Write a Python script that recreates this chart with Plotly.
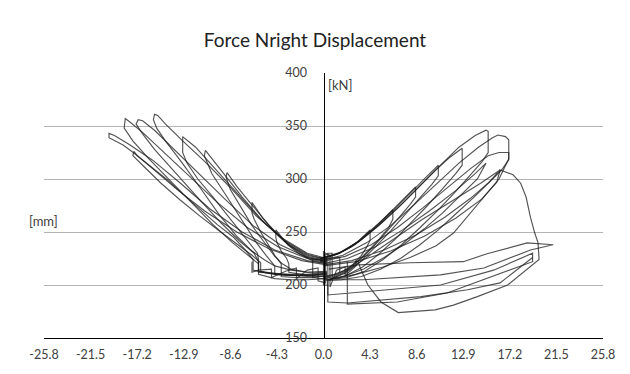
import plotly.graph_objects as go

# ---------------- axis ticks ----------------
x_ticks = [-25.8, -21.5, -17.2, -12.9, -8.6, -4.3, 0.0, 4.3, 8.6, 12.9, 17.2, 21.5, 25.8]
x_tick_labels = ["-25.8", "-21.5", "-17.2", "-12.9", "-8.6", "-4.3", "0.0", "4.3", "8.6", "12.9", "17.2", "21.5", "25.8"]
y_ticks = [150, 200, 250, 300, 350, 400]

# ---------------- left-side cycles (negative displacement) ----------------
L9_x = [0.3, -1.0, -2.2, -3.3, -4.4, -4.4, -4.3, -3.9, -3.4, -3.2, -3.2, -2.0, -0.8, 0.3]
L9_y = [220, 223, 229, 238, 252, 245, 240, 232, 225, 220, 212, 210, 209, 210]

L8_x = [0.3, -1.5, -3.0, -4.5, -5.6, -6.6, -6.6, -6.4, -5.8, -5.1, -4.5, -3.9, -3.9, -2.5, -1.0, 0.3]
L8_y = [222, 226, 236, 250, 263, 278, 268, 262, 250, 238, 228, 220, 208, 207, 207, 209]

L7_x = [0.3, -1.5, -3.2, -5.0, -6.8, -8.0, -8.9, -9.0, -8.6, -7.9, -6.6, -5.3, -4.5, -3.8, -3.0, -1.5, 0.3]
L7_y = [223, 227, 238, 256, 278, 293, 306, 302, 290, 278, 256, 238, 227, 220, 215, 212, 212]

L6_x = [0.3, -1.5, -3.5, -5.5, -7.5, -9.3, -10.9, -11.0, -10.3, -8.9, -7.4, -6.2, -5.3, -4.5, -4.5, -3.0, -1.5, 0.3]
L6_y = [224, 228, 240, 259, 283, 306, 327, 322, 305, 283, 259, 240, 228, 218, 210, 209, 209, 211]

L5_x = [0.3, -1.5, -3.6, -5.8, -8.0, -10.0, -11.8, -13.0, -13.0, -12.6, -11.6, -10.2, -8.6, -7.2, -6.1, -6.0, -6.0, -4.5, -3.0, -1.5, 0.3]
L5_y = [224, 229, 242, 262, 287, 310, 330, 340, 325, 315, 300, 283, 262, 244, 230, 224, 212, 211, 210, 210, 212]

L4_x = [0.3, -1.5, -3.8, -6.2, -8.6, -10.9, -13.0, -14.6, -15.3, -15.6, -15.7, -15.4, -14.6, -13.1, -11.4, -9.6, -8.0, -6.6, -5.5, -4.5, -3.0, -1.5, 0.3]
L4_y = [225, 230, 244, 265, 292, 316, 336, 352, 360, 361, 356, 348, 336, 316, 292, 266, 246, 232, 224, 218, 214, 212, 213]

L3_x = [0.3, -1.5, -4.0, -6.5, -9.0, -11.5, -13.8, -15.6, -16.7, -17.1, -17.3, -16.8, -15.6, -13.6, -11.4, -9.4, -7.8, -6.4, -6.0, -6.0, -4.5, -3.0, -1.5, 0.3]
L3_y = [222, 226, 238, 256, 280, 305, 328, 346, 355, 356, 352, 344, 328, 305, 280, 258, 242, 230, 222, 213, 210, 209, 209, 211]

L2_x = [0.3, -1.5, -4.2, -7.0, -9.8, -12.4, -14.8, -16.7, -17.9, -18.3, -18.4, -17.6, -16.2, -14.3, -12.2, -10.2, -8.4, -7.0, -6.0, -6.0, -4.5, -3.0, -1.5, 0.3]
L2_y = [221, 225, 236, 254, 278, 303, 326, 344, 354, 357, 348, 336, 320, 300, 278, 257, 240, 228, 220, 210, 206, 205, 205, 206]

L1_x = [0.3, -1.5, -4.5, -7.5, -10.5, -13.2, -15.8, -18.0, -19.3, -19.8, -19.8, -19.4, -18.5, -17.5, -16.0, -14.4, -12.9, -11.4, -9.8, -8.3, -7.2, -6.5, -6.5, -5.0, -3.0, -1.5, 0.3]
L1_y = [220, 223, 233, 250, 272, 296, 318, 333, 341, 343, 339, 337, 332, 324.5, 312, 299, 285, 271, 257, 245, 233, 224, 214, 211, 209, 208, 208]

L0_x = [0.3, -2.0, -5.0, -8.0, -11.0, -13.5, -15.8, -17.2, -17.5, -17.6, -16.6, -15.0, -13.2, -11.4, -9.6, -8.0, -6.6, -5.8, -5.8, -4.0, -2.0, 0.3]
L0_y = [219, 223, 234, 250, 270, 290, 310, 322, 326, 322, 312, 296, 280, 265, 251, 239, 228, 221, 213, 210, 209, 210]

# ---------------- right-side cycles (positive displacement) ----------------
R1_x = [-0.3, 1.0, 2.2, 3.3, 4.3, 4.3, 4.0, 3.5, 2.8, 2.0, 1.0, 0.0]
R1_y = [224, 228, 234, 242, 252, 242, 236, 228, 220, 214, 210, 208]

R2_x = [-0.3, 1.2, 2.6, 4.0, 5.3, 6.4, 6.4, 6.0, 5.2, 4.2, 3.2, 2.2, 1.2, 0.0]
R2_y = [225, 229, 236, 248, 260, 271, 262, 254, 244, 233, 223, 215, 210, 207]

R3_x = [-0.3, 1.3, 2.9, 4.4, 5.9, 7.3, 8.5, 8.5, 8.0, 7.0, 5.8, 4.6, 3.4, 2.2, 1.0, 0.0]
R3_y = [225, 229, 238, 251, 266, 280, 292.5, 283, 276, 264, 250, 236, 224, 214, 208, 206]

R4_x = [-0.3, 1.4, 3.1, 4.8, 6.4, 8.0, 9.4, 10.6, 10.6, 10.0, 8.9, 7.6, 6.2, 4.8, 3.4, 2.0, 0.5]
R4_y = [225, 230, 240, 254, 270, 287, 301, 313, 303, 295, 282, 267, 251, 236, 222, 211, 205]

R5_x = [-0.3, 1.5, 3.3, 5.1, 6.9, 8.6, 10.2, 11.6, 12.8, 12.8, 12.2, 11.0, 9.6, 8.1, 6.6, 5.1, 3.6, 2.1, 0.5]
R5_y = [225, 230, 241, 256, 273, 291, 307, 320, 329, 313, 305, 291, 275, 259, 243, 229, 217, 209, 205]

R6_x = [-0.3, 1.6, 3.5, 5.4, 7.3, 9.1, 10.9, 12.5, 14.0, 15.0, 15.2, 15.2, 14.6, 13.4, 12.0, 10.5, 8.9, 7.2, 5.5, 3.8, 2.1, 0.4]
R6_y = [225, 231, 243, 259, 277, 296, 314, 330, 341, 346, 345, 325, 316, 302, 286, 270, 254, 238, 224, 213, 207, 205]

R7_x = [-0.3, 1.8, 4.0, 6.2, 8.4, 10.5, 12.5, 14.3, 15.6, 16.1, 16.8, 17.1, 17.1, 16.4, 15.2, 13.8, 12.2, 10.6, 8.9, 7.1, 5.3, 3.5, 1.7, 0.2]
R7_y = [223, 228, 240, 256, 276, 296, 315, 330, 339, 341.5, 340, 337, 318, 308, 296, 282, 267, 252, 238, 225, 215, 208, 205, 204]

R7b_x = [-0.3, 2.0, 4.4, 6.8, 9.2, 11.5, 13.6, 15.2, 16.2, 17.1, 17.1, 16.2, 14.8, 13.4, 12.0, 10.4, 8.0, 5.5, 3.0, 1.0]
R7b_y = [222, 227, 238, 254, 273, 292, 310, 322, 325, 325, 319, 300, 283, 266, 249, 237, 226, 217, 210, 206]

R8_x = [0.0, 2.2, 4.8, 7.3, 9.8, 12.2, 14.0, 15.0, 14.2, 12.6, 11.0, 9.3, 7.5, 5.6, 3.7, 1.8, 0.2]
R8_y = [220, 225, 236, 252, 270, 289, 305, 315, 300, 284, 268, 253, 239, 226, 215, 208, 205]

R9_x = [0.0, 2.6, 5.6, 8.5, 11.2, 13.6, 15.3, 16.3, 14.5, 12.5, 10.5, 9.0, 7.0, 5.0, 3.4, 2.0, 0.6]
R9_y = [219, 223, 233, 247, 264, 282, 297, 308.5, 296, 283, 270, 261, 247, 233, 221, 212, 205]

# failure cycle: peak, load drop, large return loop
C_x = [0.0, 3.0, 6.2, 9.3, 12.2, 14.6, 16.0, 16.3, 17.5, 18.2, 18.7, 19.1, 19.5, 19.8, 19.9, 18.5, 17.0, 14.2, 12.0, 10.3, 6.9, 5.3, 4.1, 3.4, 3.2]
C_y = [218, 222, 232, 246, 263, 281, 297, 308.5, 304, 296, 283, 264, 249, 240, 224, 212, 200, 189, 181, 176.5, 174, 184, 200, 216, 222]

A_x = [0.5, 3.2, 8.0, 12.9, 15.1, 18.8, 21.2, 19.1, 14.8, 10.8, 3.7, 1.0]
A_y = [215, 219, 221, 222, 229.5, 239.7, 238, 233, 216, 209.5, 205, 205]

B_x = [0.4, 0.4, 5.9, 10.8, 15.7, 19.3, 19.3, 16.6, 11.4, 6.8, 2.2, 2.2]
B_y = [205, 190.6, 195.5, 200, 214, 230, 222, 212, 192.5, 184, 182, 222]

B2_x = [19.3, 16.3, 13.3, 9.0, 2.2, 0.4, 0.4]
B2_y = [226, 202, 195.5, 189, 183, 184, 200]

# small reversals clustered around zero displacement
Z_x = [-6.6, -6.6, -6.0, -4.8, -4.8, -3.5, -2.5, -2.5, -1.5, -0.5, -0.5, 0.2, 0.2, 0.6, 0.6, 1.2, 2.0, 2.0, 3.0, 3.0]
Z_y = [222, 212, 214, 215, 207, 213, 216, 206, 214, 216, 204, 202, 230, 228, 198, 214, 217, 209, 218, 224]
Z2_x = [0.0, 0.0, 0.4, 0.4, 0.8, 0.8, -1.0, -1.0, 1.5, 1.5]
Z2_y = [232, 200, 200, 230, 230, 205, 207, 224, 226, 212]

cycles = [
    (L9_x, L9_y), (R1_x, R1_y), (L8_x, L8_y), (R2_x, R2_y), (L7_x, L7_y), (R3_x, R3_y),
    (L6_x, L6_y), (R4_x, R4_y), (L5_x, L5_y), (R5_x, R5_y), (L4_x, L4_y), (R6_x, R6_y),
    (L3_x, L3_y), (R7_x, R7_y), (L2_x, L2_y), (R7b_x, R7b_y), (L1_x, L1_y), (R8_x, R8_y),
    (L0_x, L0_y), (R9_x, R9_y), (C_x, C_y), (A_x, A_y), (B_x, B_y), (B2_x, B2_y),
    (Z_x, Z_y), (Z2_x, Z2_y),
]

fig = go.Figure()
for cx, cy in cycles:
    fig.add_trace(go.Scatter(
        x=cx, y=cy, mode="lines",
        line=dict(color="rgba(25,25,25,0.75)", width=1.15),
        showlegend=False, hoverinfo="skip",
    ))

font_family = "Lato, 'Open Sans', sans-serif"

# the page body adds an 8 px margin, so the figure is sized to fit inside it
W, H = 614, 358

fig.update_layout(
    width=W, height=H,
    margin=dict(l=36, r=19, t=65, b=28, autoexpand=False),
    paper_bgcolor="white", plot_bgcolor="white",
    title=dict(text="Force Nright Displacement", x=0.5, xanchor="center",
               y=1 - 32 / H, yanchor="middle",
               font=dict(family=font_family, size=19, color="#222222")),
    font=dict(family=font_family, size=12, color="#595959"),
    xaxis=dict(
        range=[-25.8, 25.8], tickvals=x_ticks, ticktext=x_tick_labels,
        showgrid=False, zeroline=False, showline=True, linecolor="black", linewidth=1,
        ticks="", ticklabelstandoff=5, tickfont=dict(size=12.5, color="#404040"),
        automargin=False,
    ),
    yaxis=dict(
        range=[150, 400], tickvals=y_ticks,
        showgrid=True, gridcolor="#b4b4b4", gridwidth=1,
        zeroline=False, showline=True, linecolor="black", linewidth=1,
        anchor="free", position=0.5, side="left",
        ticks="", ticklabelstandoff=14, tickfont=dict(size=12.5, color="#404040"),
        automargin=False,
    ),
    annotations=[
        dict(text="[kN]", x=0.25, y=389, xref="x", yref="y", xanchor="left", yanchor="middle",
             showarrow=False, font=dict(family=font_family, size=13, color="#404040")),
        dict(text="[mm]", x=-0.031, y=260, xref="paper", yref="y", xanchor="left", yanchor="middle",
             showarrow=False, font=dict(family=font_family, size=13, color="#404040")),
    ],
)

fig.write_html("out.html")
